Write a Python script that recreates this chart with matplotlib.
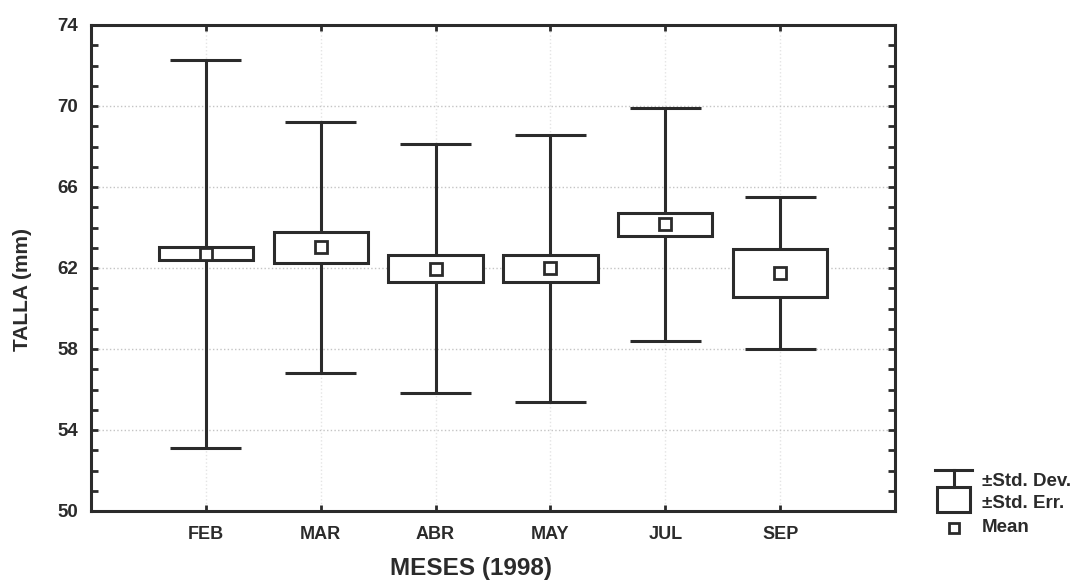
import numpy as np
import matplotlib
matplotlib.use('Agg')
import matplotlib.pyplot as plt
from matplotlib.patches import Rectangle
from matplotlib.lines import Line2D

plt.rcParams['font.family'] = ['Liberation Sans', 'DejaVu Sans']
plt.rcParams['font.weight'] = 'bold'
plt.rcParams['axes.labelweight'] = 'bold'

# data
months = ['FEB', 'MAR', 'ABR', 'MAY', 'JUL', 'SEP']
means = [62.70, 63.02, 61.97, 61.98, 64.15, 61.74]
sd = [9.57, 6.20, 6.15, 6.58, 5.76, 3.76]
se = [0.32, 0.78, 0.65, 0.67, 0.56, 1.19]
yticks = [50, 54, 58, 62, 66, 70, 74]

ink = '#2b2b2b'
lw = 2.2

fig = plt.figure(figsize=(10.78, 5.83), dpi=100)
ax = fig.add_axes([91/1078, 1 - 511/583, (895-91)/1078, (511-25)/583])

x = np.arange(1, len(months) + 1)
means = np.array(means)
sd = np.array(sd)
se = np.array(se)

# whiskers (+-SD)
ax.vlines(x, means - sd, means + sd, color=ink, lw=lw, zorder=2)
ax.hlines(means + sd, x - 0.31, x + 0.31, color=ink, lw=lw, zorder=2)
ax.hlines(means - sd, x - 0.31, x + 0.31, color=ink, lw=lw, zorder=2)
# boxes (+-SE)
ax.bar(x, 2 * se, bottom=means - se, width=0.82, color='white',
       edgecolor=ink, linewidth=lw, zorder=3)
# means
ax.plot(x, means, 's', ms=9, mfc='white', mec=ink, mew=2.0, zorder=4)

ax.set_xlim(0, 7)
ax.set_ylim(50, 74)
ax.set_xticks(x)
ax.set_xticklabels(months)
ax.set_yticks(yticks)
ax.set_yticks(np.arange(50, 75, 1), minor=True)
ax.tick_params(axis='y', which='both', direction='in', left=True, right=True,
               length=5, width=2, color=ink, labelsize=13.5, labelcolor=ink, pad=9)
ax.tick_params(axis='x', direction='in', top=True, bottom=True, length=4,
               width=2, color=ink, labelsize=13, labelcolor=ink, pad=11)
for s in ax.spines.values():
    s.set_linewidth(2.2)
    s.set_color(ink)

ax.yaxis.grid(True, linestyle=':', color='#c4c4c4', lw=1.0, zorder=0)
ax.xaxis.grid(True, linestyle=':', color='#e4e4e4', lw=1.0, zorder=0)

ax.set_xlabel('MESES (1998)', fontsize=17.5, color=ink)
ax.set_ylabel('TALLA (mm)', fontsize=15, color=ink)
ax.xaxis.set_label_coords(0.473, -0.095)
ax.yaxis.set_label_coords(-0.074, 0.455)

# legend drawn by hand
lg = fig.add_axes([925/1078, 1 - 545/583, 60/1078, 90/583])
lg.set_xlim(0, 60)
lg.set_ylim(90, 0)
lg.axis('off')
lg.add_line(Line2D([10, 47], [15, 15], color=ink, lw=lw))
lg.add_line(Line2D([28.5, 28.5], [15, 32], color=ink, lw=lw))
lg.add_patch(Rectangle((12, 32), 33, 25, facecolor='white', edgecolor=ink, lw=lw))
lg.plot([28.5], [73], 's', ms=7, mfc='white', mec=ink, mew=2.0)

fig.text(982/1078, 1 - 481/583, '±Std. Dev.', fontsize=13.5, color=ink, va='center')
fig.text(982/1078, 1 - 503/583, '±Std. Err.', fontsize=13.5, color=ink, va='center')
fig.text(982/1078, 1 - 528/583, 'Mean', fontsize=13.5, color=ink, va='center')

fig.savefig('out.png', dpi=100)
